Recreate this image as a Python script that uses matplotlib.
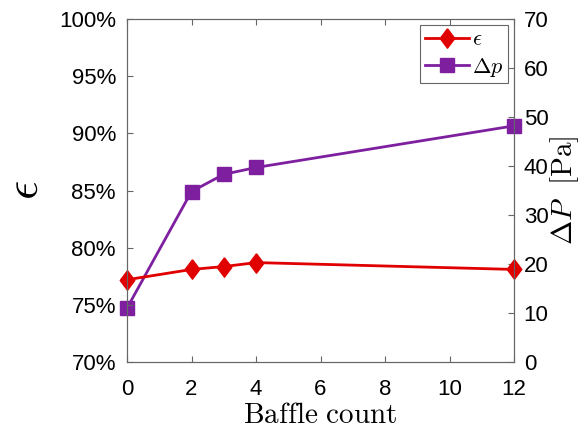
import matplotlib.pyplot as plt
from matplotlib.ticker import FuncFormatter

plt.rcParams['font.family'] = ['Liberation Sans', 'DejaVu Sans']
plt.rcParams['mathtext.fontset'] = 'cm'

# datos
baffles = [0, 2, 3, 4, 12]
eff = [77.2, 78.1, 78.35, 78.7, 78.1]      # epsilon [%]
dp = [11.0, 34.8, 38.3, 39.7, 48.2]        # caida de presion [Pa]
x_ticks = [0, 2, 4, 6, 8, 10, 12]
eff_ticks = [70, 75, 80, 85, 90, 95, 100]
dp_ticks = [0, 10, 20, 30, 40, 50, 60, 70]

red = '#e00000'
purple = '#7e1fa0'
grey = '#666666'

# rombo algo mas alto que ancho, como en MATLAB
diamond = [(0, 1), (0.75, 0), (0, -1), (-0.75, 0), (0, 1)]

fig = plt.figure(figsize=(5.81, 4.30), dpi=100)
ax = fig.add_axes([0.2186, 0.158, 0.6661, 0.7978])
ax2 = ax.twinx()

l1, = ax.plot(baffles, eff, color=red, lw=2, marker=diamond, ms=14,
              label=r'$\epsilon$', clip_on=False)
l2, = ax2.plot(baffles, dp, color=purple, lw=2, marker='s', ms=10,
               label=r'$\Delta p$', clip_on=False)

ax.set_xlim(0, 12)
ax.set_ylim(70, 100)
ax2.set_ylim(0, 70)
ax.set_xticks(x_ticks)
ax.set_yticks(eff_ticks)
ax2.set_yticks(dp_ticks)
ax.yaxis.set_major_formatter(FuncFormatter(lambda v, p: '%d%%' % v))

for a in (ax, ax2):
    a.tick_params(direction='in', labelsize=16, color=grey, length=4)
    for s in a.spines.values():
        s.set_color(grey)
ax.tick_params(top=True)
ax.tick_params(axis='x', pad=12)
ax.tick_params(axis='y', pad=8)
ax2.tick_params(axis='y', pad=7)
ax.set_zorder(ax2.get_zorder() + 1)
ax.patch.set_visible(False)

ax.set_xlabel(r'$\mathrm{Baffle\ count}$', fontsize=21, labelpad=1)
ax.set_ylabel(r'$\epsilon$', fontsize=34, labelpad=8)
ax2.set_ylabel(r'$\Delta P\ \ \mathrm{[Pa]}$', fontsize=21, labelpad=0)

leg = ax.legend(handles=[l1, l2], loc='upper right', fontsize=16, fancybox=False,
                edgecolor=grey, bbox_to_anchor=(0.985, 0.983), borderaxespad=0,
                handlelength=2.0, handletextpad=0.15, borderpad=0.2,
                labelspacing=0.25, framealpha=1)
leg.get_frame().set_linewidth(0.8)

fig.savefig('out.png', dpi=100)
